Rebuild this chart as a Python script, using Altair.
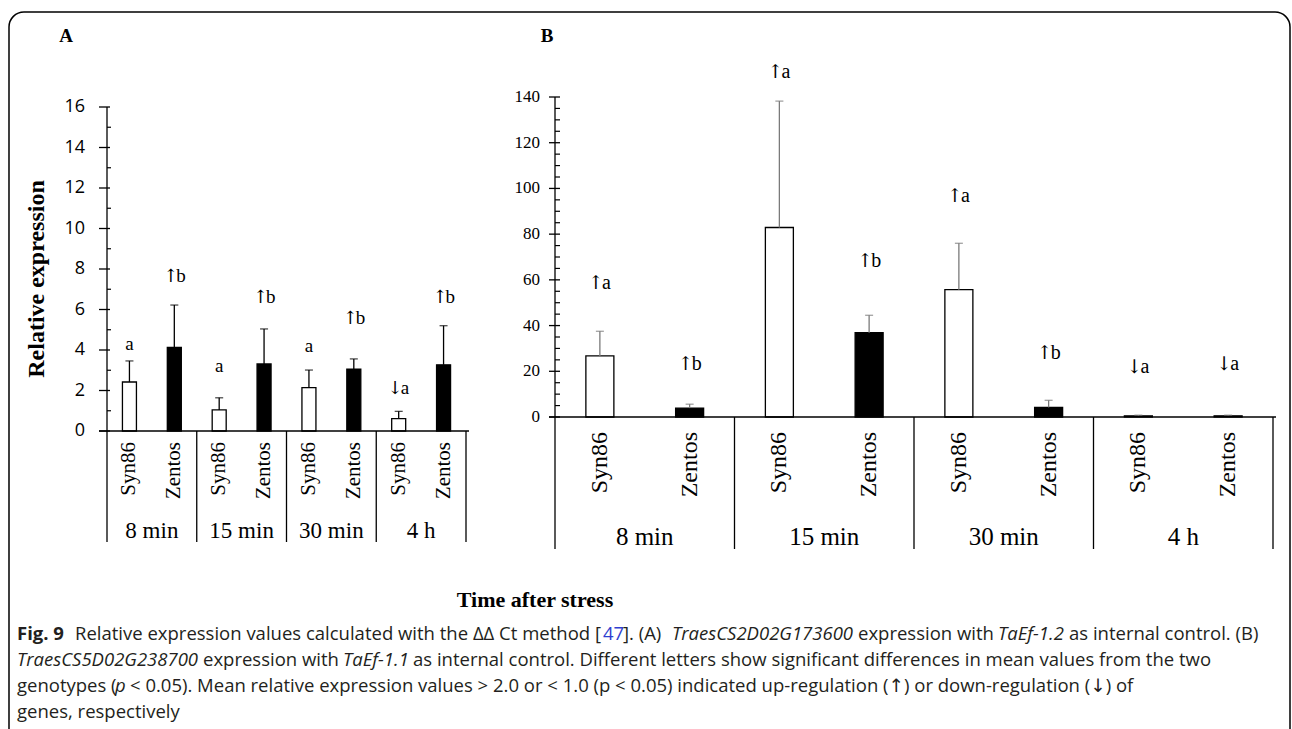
import altair as alt
import pandas as pd

# ---------------- data ----------------
TIMES = ["8 min", "15 min", "30 min", "4 h"]
GENOTYPES = ["Syn86", "Zentos"]

# Panel A : TraesCS2D02G173600 (TaEf-1.2)
A_MEAN = [2.42, 4.13, 1.04, 3.31, 2.14, 3.05, 0.61, 3.27]
A_UPPER = [3.46, 6.22, 1.64, 5.04, 3.01, 3.56, 0.97, 5.20]
A_LETTER = ["a", "↑b", "a", "↑b", "a", "↑b", "↓a", "↑b"]
A_LETTER_AT = [4.30, 7.65, 3.21, 6.62, 4.21, 5.60, 2.12, 6.63]
A_TICKS = [0, 2, 4, 6, 8, 10, 12, 14, 16]
A_MINOR = [1, 3, 5, 7, 9, 11, 13, 15]

# Panel B : TraesCS5D02G238700 (TaEf-1.1)
B_MEAN = [26.7, 3.9, 82.9, 36.9, 55.7, 4.2, 0.5, 0.5]
B_UPPER = [37.5, 5.6, 138.2, 44.5, 76.0, 7.3, 0.8, 0.8]
B_LETTER = ["↑a", "↑b", "↑a", "↑b", "↑a", "↑b", "↓a", "↓a"]
B_LETTER_AT = [58.5, 23.4, 150.8, 68.1, 96.9, 28.0, 21.9, 23.1]
B_TICKS = [0, 20, 40, 60, 80, 100, 120, 140]
B_MINOR = [5, 10, 15, 25, 30, 35, 45, 50, 55, 65, 70, 75, 85, 90, 95,
           105, 110, 115, 125, 130, 135]

# caption pieces: (text, style, left x)
CAPTION = [
    [("Fig. 9", "bold", 17),
     ("Relative expression values calculated with the ΔΔ Ct method [", "normal", 75),
     ("47", "link", 603),
     ("]. (A)", "normal", 623),
     ("TraesCS2D02G173600", "italic", 672),
     ("expression with", "normal", 858),
     ("TaEf-1.2", "italic", 998),
     ("as internal control. (B)", "normal", 1069)],
    [("TraesCS5D02G238700", "italic", 17),
     ("expression with", "normal", 203),
     ("TaEf-1.1", "italic", 343),
     ("as internal control. Different letters show significant differences in mean values from the two", "normal", 413)],
    [("genotypes (", "normal", 17),
     ("p", "italic", 115),
     ("< 0.05). Mean relative expression values > 2.0 or < 1.0 (p < 0.05) indicated up-regulation (↑) or down-regulation (↓) of", "normal", 130)],
    [("genes, respectively", "normal", 17)],
]
CAPTION_Y = [634, 660, 686, 712]

SERIF = "Liberation Serif"
SANS = "Open Sans, DejaVu Sans"
ARROW_FONT = "DejaVu Serif"


def make_frame(mean, upper, letters, at):
    rows = []
    k = 0
    for t in TIMES:
        for g in GENOTYPES:
            s = letters[k]
            rows.append({"cat": f"{t}|{g}", "time": t, "geno": g,
                         "mean": mean[k], "upper": upper[k],
                         "arrow": s[:-1], "char": s[-1], "at": at[k]})
            k += 1
    return pd.DataFrame(rows)


def panel(df, ymax, ticks, minor, left, right, top, bottom, bar_size, cap,
          err_color, tick_font, tick_font_size, tick_out, tick_pad, major_in,
          minor_in, cat_font_size, cat_pad, group_font_size, group_y,
          sep_bottom, letter_size):
    cats = df["cat"].tolist()
    xs = alt.Scale(domain=cats, range=[left, right], paddingInner=0, paddingOuter=0)
    ys = alt.Scale(domain=[0, ymax], range=[bottom, top], nice=False, zero=True)
    X = lambda **kw: alt.X("cat:N", scale=xs, axis=None, **kw)
    base = alt.Chart(df)

    bars = base.mark_bar(size=bar_size, stroke="black", strokeWidth=1.3).encode(
        x=X(),
        y=alt.Y("mean:Q", scale=ys, axis=None),
        color=alt.Color("geno:N", scale=alt.Scale(domain=GENOTYPES, range=["white", "black"]),
                        legend=None),
    )
    err = base.mark_rule(color=err_color, strokeWidth=1.3).encode(
        x=X(), y=alt.Y("mean:Q", scale=ys, axis=None), y2="upper:Q")
    caps = base.mark_tick(color=err_color, thickness=1.3, size=cap).encode(
        x=X(), y=alt.Y("upper:Q", scale=ys, axis=None))

    # significance letters, arrow and letter drawn side by side
    dy = round(letter_size * 0.32)
    plain = base.transform_filter(alt.datum.arrow == "").mark_text(
        font=SERIF, fontSize=letter_size, color="black", baseline="alphabetic",
        dy=dy).encode(x=X(), y=alt.Y("at:Q", scale=ys, axis=None), text="char:N")
    arrows = base.transform_filter(alt.datum.arrow != "").mark_text(
        font=ARROW_FONT, fontSize=letter_size * 0.95, color="black", baseline="alphabetic",
        align="right", dx=4, dy=dy).encode(
        x=X(), y=alt.Y("at:Q", scale=ys, axis=None), text="arrow:N")
    chars = base.transform_filter(alt.datum.arrow != "").mark_text(
        font=SERIF, fontSize=letter_size, color="black", baseline="alphabetic",
        align="left", dx=2, dy=dy).encode(
        x=X(), y=alt.Y("at:Q", scale=ys, axis=None), text="char:N")

    # ---- y axis drawn from the tick values ----
    span = alt.Chart(pd.DataFrame({"lo": [0], "hi": [ymax]}))
    y_line = span.mark_rule(color="black", strokeWidth=1.3).encode(
        x=alt.value(left), y=alt.Y("lo:Q", scale=ys, axis=None), y2="hi:Q")
    x_line = span.mark_rule(color="black", strokeWidth=1.3).encode(
        y=alt.Y("lo:Q", scale=ys, axis=None), x=alt.value(left - tick_out),
        x2=alt.value(right + 3))
    major_df = pd.DataFrame({"v": ticks, "lab": [str(t) for t in ticks]})
    majors = alt.Chart(major_df).mark_rule(color="black", strokeWidth=1.3).encode(
        y=alt.Y("v:Q", scale=ys, axis=None),
        x=alt.value(left - tick_out), x2=alt.value(left + major_in))
    minors = alt.Chart(pd.DataFrame({"v": minor})).mark_rule(
        color="black", strokeWidth=1.2).encode(
        y=alt.Y("v:Q", scale=ys, axis=None),
        x=alt.value(left), x2=alt.value(left + minor_in))
    tick_labels = alt.Chart(major_df).mark_text(
        font=tick_font, fontSize=tick_font_size, color="black", align="right",
        baseline="middle").encode(
        y=alt.Y("v:Q", scale=ys, axis=None),
        x=alt.value(left - tick_out - tick_pad), text="lab:N")

    # ---- category axis ----
    cat_labels = base.mark_text(font=SERIF, fontSize=cat_font_size, color="black",
                                angle=270, align="right", baseline="middle").encode(
        x=X(), y=alt.value(bottom + cat_pad), text="geno:N")
    starts = base.transform_filter(alt.datum.geno == GENOTYPES[0]).mark_rule(
        color="black", strokeWidth=1.3).encode(
        x=X(bandPosition=0), y=alt.value(bottom), y2=alt.value(sep_bottom))
    end = base.transform_filter(alt.datum.cat == cats[-1]).mark_rule(
        color="black", strokeWidth=1.3).encode(
        x=X(bandPosition=1), y=alt.value(bottom), y2=alt.value(sep_bottom))
    groups = base.transform_filter(alt.datum.geno == GENOTYPES[1]).mark_text(
        font=SERIF, fontSize=group_font_size, color="black", baseline="middle").encode(
        x=X(bandPosition=0), y=alt.value(group_y), text="time:N")

    return alt.layer(bars, err, caps, plain, arrows, chars, y_line, x_line, majors,
                     minors, tick_labels, cat_labels, starts, end, groups)


dfA = make_frame(A_MEAN, A_UPPER, A_LETTER, A_LETTER_AT)
dfB = make_frame(B_MEAN, B_UPPER, B_LETTER, B_LETTER_AT)

panelA = panel(dfA, 16, A_TICKS, A_MINOR, left=107, right=466, top=107, bottom=431,
               bar_size=14, cap=8, err_color="black", tick_font="Open Sans", tick_font_size=18,
               tick_out=8, tick_pad=14, major_in=3, minor_in=4, cat_font_size=21,
               cat_pad=11, group_font_size=23, group_y=531, sep_bottom=542,
               letter_size=19)

panelB = panel(dfB, 140, B_TICKS, B_MINOR, left=555, right=1273, top=97, bottom=417,
               bar_size=28, cap=8, err_color="#7a7a7a", tick_font=SERIF, tick_font_size=17,
               tick_out=6, tick_pad=9, major_in=5, minor_in=5, cat_font_size=24,
               cat_pad=15, group_font_size=25, group_y=537, sep_bottom=549,
               letter_size=20)

one = alt.Data(values=[{}])


def text_at(s, x, y, **kw):
    return alt.Chart(one).mark_text(text=s, **kw).encode(x=alt.value(x), y=alt.value(y))


border = alt.Chart(one).mark_rect(cornerRadius=15, fill="transparent", stroke="black",
                                  strokeWidth=1.5).encode(
    x=alt.value(9), x2=alt.value(1290), y=alt.value(12), y2=alt.value(780))

extras = [
    text_at("A", 66, 36, font=SERIF, fontSize=19, fontWeight="bold", color="black"),
    text_at("B", 547, 36, font=SERIF, fontSize=19, fontWeight="bold", color="black"),
    text_at("Relative expression", 37, 279, font=SERIF, fontSize=24, fontWeight="bold",
            color="black", angle=270, baseline="middle"),
    text_at("Time after stress", 535, 600, font=SERIF, fontSize=22, fontWeight="bold",
            color="black", baseline="middle"),
]

styles = {
    "bold": dict(fontWeight="bold", color="#231f20"),
    "normal": dict(color="#231f20"),
    "italic": dict(fontStyle="italic", color="#231f20"),
    "link": dict(color="#2f3fd0"),
}
for line, yy in zip(CAPTION, CAPTION_Y):
    for s, st, x0 in line:
        extras.append(text_at(s, x0, yy, font=SANS, fontSize=18.5, align="left",
                              baseline="middle", **styles[st]))

chart = alt.layer(border, panelA, panelB, *extras).resolve_scale(
    x="independent", y="independent"
).properties(
    width=1292, height=729, autosize=alt.AutoSizeParams(type="none"), padding=0,
    background="white"
).configure_view(stroke="transparent")

chart.save("out.html", embed_options={"renderer": "svg", "actions": False})
